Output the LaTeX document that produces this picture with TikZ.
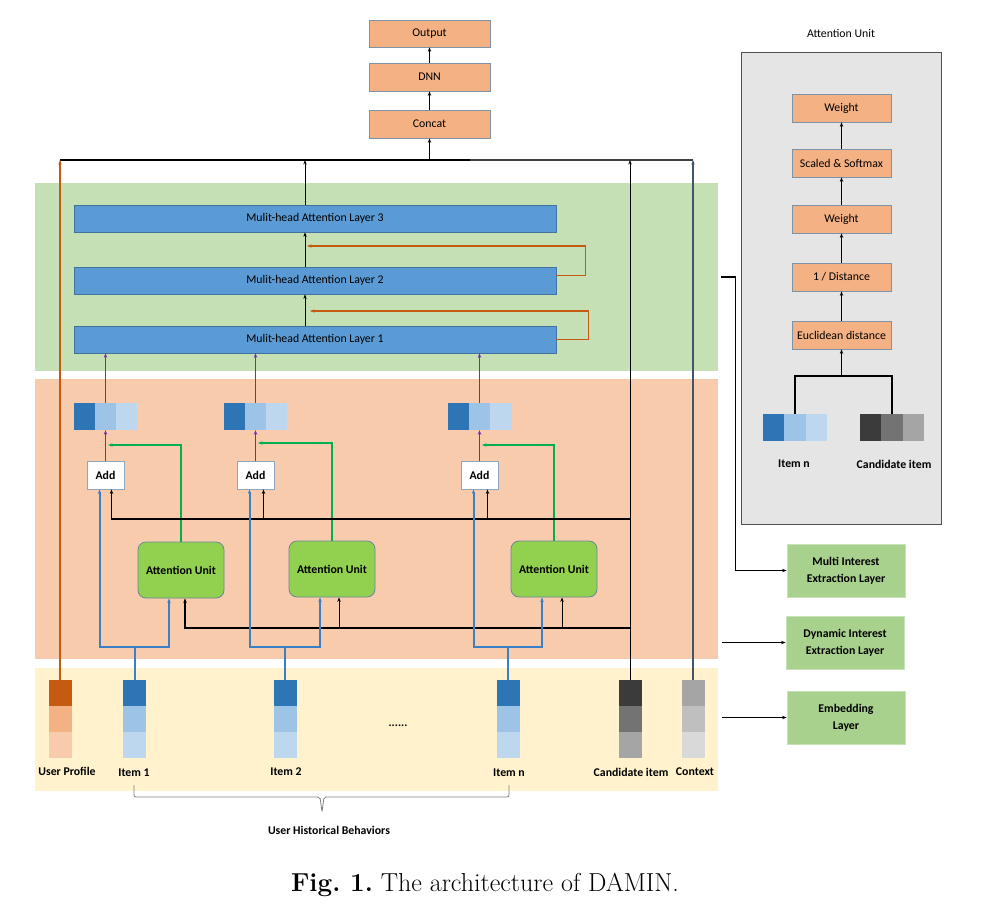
\documentclass[tikz,border=0pt]{standalone}
\usepackage{fontspec}
\newfontfamily\calib{Carlito}
\usetikzlibrary{arrows.meta}
\definecolor{bandG}{HTML}{C5E0B4}
\definecolor{bandS}{HTML}{F8CBAD}
\definecolor{bandY}{HTML}{FFF2CC}
\definecolor{mhaF}{HTML}{5B9BD5}
\definecolor{mhaD}{HTML}{41719C}
\definecolor{orF}{HTML}{F4B183}
\definecolor{boxD}{HTML}{7F93A8}
\definecolor{addD}{HTML}{8FA6C0}
\definecolor{auF}{HTML}{92D050}
\definecolor{auD}{HTML}{6A8798}
\definecolor{layF}{HTML}{A9D18E}
\definecolor{layD}{HTML}{C9E3B9}
\definecolor{pnlF}{HTML}{E5E5E5}
\definecolor{pnlD}{HTML}{505050}
\definecolor{dB}{HTML}{2E75B6}
\definecolor{mB}{HTML}{9DC3E6}
\definecolor{lB}{HTML}{BDD7EE}
\definecolor{pf1}{HTML}{C55A11}
\definecolor{pf2}{HTML}{F4B183}
\definecolor{pf3}{HTML}{F8CBAD}
\definecolor{cd1}{HTML}{3B3B3B}
\definecolor{cd2}{HTML}{737373}
\definecolor{cd3}{HTML}{A5A5A5}
\definecolor{cx1}{HTML}{A5A5A5}
\definecolor{cx2}{HTML}{BFBFBF}
\definecolor{cx3}{HTML}{D9D9D9}
\definecolor{grnL}{HTML}{00B050}
\definecolor{orL}{HTML}{C55A11}
\definecolor{purL}{HTML}{7030A0}
\definecolor{bluL}{HTML}{3A80C8}
\definecolor{ctxL}{HTML}{44546A}
\newcommand{\vstack}[5]{%
  \node[vcell, fill=#3] (#1a) at (#2,693) {};
  \node[vcell, fill=#4] (#1b) at (#2,719) {};
  \node[vcell, fill=#5] (#1c) at (#2,745) {};}
\newcommand{\hstack}[6]{%
  \node[hcell, fill=#4] (#1a) at (#2-21.33,#3) {};
  \node[hcell, fill=#5] (#1b) at (#2,#3) {};
  \node[hcell, fill=#6] (#1c) at (#2+21.33,#3) {};}
\begin{document}
\frenchspacing
\begin{tikzpicture}[x=1pt,y=-1pt,
  font=\calib\fontsize{11.8}{14}\selectfont,
  arr/.style={-{Stealth[length=4.5pt,width=3.4pt]}},
  bk/.style={draw=black, line width=1pt},
  bkt/.style={draw=black, line width=1.4pt},
  orl/.style={draw=orL, line width=1.4pt},
  grn/.style={draw=grnL, line width=1.4pt},
  pur/.style={draw=purL, line width=1.4pt},
  blu/.style={draw=bluL, line width=2pt},
  ctx/.style={draw=ctxL, line width=1.1pt},
  band/.style={draw=none, inner sep=0},
  obox/.style={draw=boxD, fill=orF, line width=0.7pt, inner sep=0, minimum width=121, minimum height=28},
  mha/.style={draw=mhaD, fill=mhaF, line width=0.7pt, inner sep=0, minimum width=482, minimum height=27},
  addbox/.style={draw=addD, fill=white, line width=0.9pt, inner sep=0, minimum width=37, minimum height=28, font=\calib\bfseries\fontsize{11.8}{14}\selectfont},
  au/.style={draw=auD, fill=auF, line width=0.8pt, rounded corners=8pt, inner sep=0, minimum width=86, minimum height=56, font=\calib\bfseries\fontsize{11.8}{14}\selectfont},
  gbox/.style={draw=layD, fill=layF, line width=0.8pt, inner sep=0, minimum width=118, minimum height=53, align=center, font=\calib\bfseries\fontsize{11.8}{17}\selectfont},
  panel/.style={draw=pnlD, fill=pnlF, line width=0.9pt, inner sep=0, minimum width=200, minimum height=472},
  vcell/.style={inner sep=0, draw=none, minimum width=23, minimum height=26},
  hcell/.style={inner sep=0, draw=none, minimum width=21.33, minimum height=27},
  lbl/.style={inner sep=1pt, font=\calib\bfseries\fontsize{11.8}{14}\selectfont}]
\useasboundingbox (0,0) rectangle (990,910);
\fill[white] (0,0) rectangle (990,910);

% bands
\node[band, fill=bandG, minimum width=683, minimum height=188] (gband) at (376.5,277) {};
\node[band, fill=bandS, minimum width=683, minimum height=280] (sband) at (376.5,519) {};
\node[band, fill=bandY, minimum width=683, minimum height=123] (yband) at (376.5,729.5) {};

% top stack
\node[obox, minimum height=27] (out) at (429.5,33.5) {Output};
\node[obox] (dnn) at (429.5,77) {DNN};
\node[obox] (cat) at (429.5,124) {Concat};
\draw[bk,arr] (dnn) -- (out);
\draw[bk,arr] (cat) -- (dnn);

% bus
\coordinate (busL) at (60,160);
\coordinate (busM) at (470,160);
\coordinate (busR) at (693,160);
\coordinate (busC) at (cat.south |- busL);
\draw[bkt] (busL) -- (busM);
\draw[draw=black!75, line width=1.1pt] (busM) -- (busR);
\draw[bk,arr] (busC) -- (cat.south);

% multi-head attention layers
\node[mha] (m3) at (315,218.5) {Mulit-head Attention Layer 3};
\node[mha] (m2) at (315,280.5) {Mulit-head Attention Layer 2};
\node[mha] (m1) at (315,339.5) {Mulit-head Attention Layer 1};
\coordinate (m3t) at ([xshift=-10pt]m3.north);
\draw[bk,arr] (m3t) -- (m3t |- busL);
\coordinate (m2t) at ([xshift=-10pt]m2.north);
\draw[bk,arr] (m2t) -- (m2t |- m3.south);
\coordinate (m1t) at ([xshift=-10pt]m1.north);
\draw[bk,arr] (m1t) -- (m1t |- m2.south);
\coordinate (fb2) at (307,246);
\draw[orl,arr] ([yshift=5pt]m2.east) -- ++(29,0) |- (fb2);
\coordinate (fb1) at (310,311);
\draw[orl,arr] (m1.east) -- ++(32,0) |- (fb1);

% embedding vectors after add
\hstack{v1}{105.5}{416.5}{dB}{mB}{lB}
\hstack{v2}{255.5}{416.5}{dB}{mB}{lB}
\hstack{v3}{479.5}{416.5}{dB}{mB}{lB}
\draw[pur,arr] (v1b.north) -- (v1b.north |- m1.south);
\draw[pur,arr] (v2b.north) -- (v2b.north |- m1.south);
\draw[pur,arr] (v3b.north) -- (v3b.north |- m1.south);

% add boxes
\node[addbox] (a1) at (105.5,475) {Add};
\node[addbox] (a2) at (255.5,475) {Add};
\node[addbox] (a3) at (479.5,475) {Add};
\draw[pur,arr] (a1.north) -- (v1b.south);
\draw[pur,arr] (a2.north) -- (v2b.south);
\draw[pur,arr] (a3.north) -- (v3b.south);

% attention units
\node[au] (u1) at (181,570) {Attention Unit};
\node[au] (u2) at (332,569) {Attention Unit};
\node[au] (u3) at (554,569) {Attention Unit};
\coordinate (g1) at (108,445);
\coordinate (g2) at (258,443);
\coordinate (g3) at (482,445);
\draw[grn,arr] (u1.north) |- (g1);
\draw[grn,arr] (u2.north) |- (g2);
\draw[grn,arr] (u3.north) |- (g3);

% bottom stacks
\vstack{pf}{60}{pf1}{pf2}{pf3}
\vstack{ia}{134.5}{dB}{mB}{lB}
\vstack{ib}{285}{dB}{mB}{lB}
\vstack{ic}{508}{dB}{mB}{lB}
\vstack{cd}{630}{cd1}{cd2}{cd3}
\vstack{cx}{693}{cx1}{cx2}{cx3}

% vertical feeds to bus
\draw[orl,arr] (pfa.north) -- (pfa.north |- busL);
\draw[bk,arr] (cda.north) -- (cda.north |- busL);
\draw[ctx,arr] (cxa.north) -- (cxa.north |- busL);

% candidate branches
\coordinate (k1) at (630,519);
\coordinate (a1r) at ([xshift=6pt]a1.south);
\coordinate (a2r) at ([xshift=8pt]a2.south);
\coordinate (a3r) at ([xshift=8pt]a3.south);
\draw[bkt,arr] (k1) -| (a1r);
\draw[bk,arr] (a2r |- k1) -- (a2r);
\draw[bk,arr] (a3r |- k1) -- (a3r);
\coordinate (k2) at (630,628);
\coordinate (u1r) at ([xshift=4pt]u1.south);
\coordinate (u2r) at ([xshift=7pt]u2.south);
\coordinate (u3r) at ([xshift=8pt]u3.south);
\draw[bkt,arr] (k2) -| (u1r);
\draw[bk,arr] (u2r |- k2) -- (u2r);
\draw[bk,arr] (u3r |- k2) -- (u3r);

% item feeds
\coordinate (j1) at (134.5,647);
\coordinate (j2) at (285,647);
\coordinate (j3) at (508,647);
\coordinate (a1l) at ([xshift=-6pt]a1.south);
\coordinate (a2l) at ([xshift=-6pt]a2.south);
\coordinate (a3l) at ([xshift=-6pt]a3.south);
\coordinate (u1l) at ([xshift=-12pt]u1.south);
\coordinate (u2l) at ([xshift=-12pt]u2.south);
\coordinate (u3l) at ([xshift=-12pt]u3.south);
\draw[blu] (iaa.north) -- (j1);
\draw[blu] (iba.north) -- (j2);
\draw[blu] (ica.north) -- (j3);
\draw[blu,arr] (j1) -| (a1l);
\draw[blu,arr] (j1) -| (u1l);
\draw[blu,arr] (j2) -| (a2l);
\draw[blu,arr] (j2) -| (u2l);
\draw[blu,arr] (j3) -| (a3l);
\draw[blu,arr] (j3) -| (u3l);

% labels
\node[lbl] (lpf) at (67,771) {User Profile};
\node[lbl] (lia) at (134,773) {Item 1};
\node[lbl] (lib) at (286,772) {Item 2};
\node[lbl] (lic) at (509,773) {Item n};
\node[lbl] (lcd) at (631,772) {Candidate item};
\node[lbl] (lcx) at (695,772) {Context};
\node[lbl] (dots) at (398,726) {......};
\draw[draw=gray, line width=0.8pt, rounded corners=2pt] (134,785) -- (134,797) -- (320,797) -- (322,812) -- (324,797) -- (509,797) -- (509,785);
\node[lbl] (uhb) at (329,830) {User Historical Behaviors};

% caption
\node[font={\rmfamily\fontsize{26}{31}\selectfont}] (cap) at (485,885) {\textbf{Fig.\ 1.} The architecture of DAMIN.};

% attention unit panel
\node (aut) at (841,33) {Attention Unit};
\node[panel] (pnl) at (841,288) {};
\node[obox, minimum width=99] (w2) at (841.5,108) {Weight};
\node[obox, minimum width=99] (sm) at (841.5,163) {Scaled \& Softmax};
\node[obox, minimum width=99] (w1) at (841.5,219) {Weight};
\node[obox, minimum width=99] (inv) at (841.5,277) {1 / Distance};
\node[obox, minimum width=99] (euc) at (841.5,335) {Euclidean distance};
\draw[bk,arr] (sm) -- (w2);
\draw[bk,arr] (w1) -- (sm);
\draw[bk,arr] (inv) -- (w1);
\draw[bk,arr] (euc) -- (inv);
\hstack{pi}{795}{427.5}{dB}{mB}{lB}
\hstack{pc}{892}{427.5}{cd1}{cd2}{cd3}
\coordinate (tj) at (841.5,376);
\draw[bkt] (pib.north) |- (tj) -| (pcb.north);
\draw[bk,arr] (tj) -- (euc.south);
\node[lbl] (lpi) at (794,464) {Item n};
\node[lbl] (lpc) at (894,464) {Candidate item};

% layer legend
\node[gbox] (mie) at (846,570.5) {Multi Interest\\Extraction Layer};
\node[gbox] (die) at (845,642.5) {Dynamic Interest\\Extraction Layer};
\node[gbox] (emb) at (846,717.5) {Embedding\\Layer};
\draw[bkt,arr] ([xshift=3pt]gband.east) -- ++(14,0) |- (mie.west);
\coordinate (ds) at (722,642.5);
\coordinate (es) at (722,717.5);
\draw[bkt,arr] (ds) -- (die.west);
\draw[bkt,arr] (es) -- (emb.west);
\end{tikzpicture}
\end{document}
